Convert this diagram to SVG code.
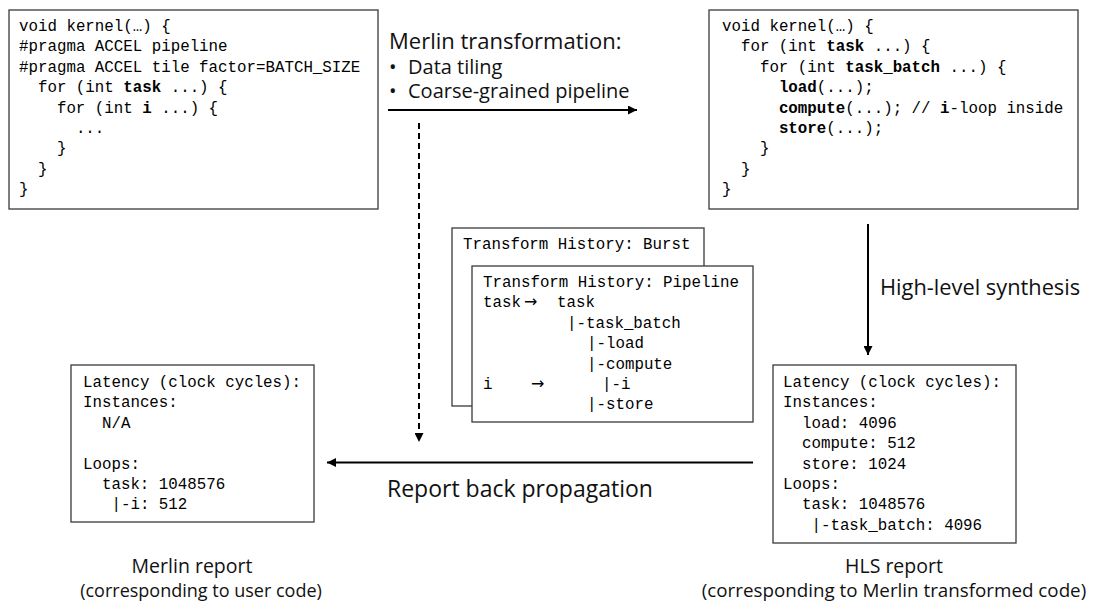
<svg xmlns="http://www.w3.org/2000/svg" width="1096" height="603" viewBox="0 0 1096 603">
<defs>
<marker id="ah" viewBox="0 0 10 10" refX="10" refY="5" markerWidth="4.5" markerHeight="4.5" orient="auto" markerUnits="strokeWidth">
<path d="M0,0 L10,5 L0,10 z" fill="#000"/>
</marker>
<style>
.box{fill:#fff;stroke:#3a3a3a;stroke-width:1.3}
.code{font-family:"Liberation Mono","DejaVu Sans Mono",monospace;font-size:15.8px;fill:#000}
.arr{font-family:"DejaVu Sans",sans-serif;font-size:16px;fill:#000}
.b{font-weight:bold}
.lbl{font-family:"Open Sans","Liberation Sans",sans-serif;font-size:20px;fill:#111}
.cap{font-family:"Open Sans","Liberation Sans",sans-serif;font-size:18px;fill:#111;text-anchor:middle}
.conn{stroke:#000;stroke-width:2;fill:none}
</style>
</defs>
<rect width="1096" height="603" fill="#fff"/>

<g id="user-code">
<rect class="box" x="9" y="10" width="369" height="199"/>
<g class="code">
<text x="19" y="31">void kernel(…) {</text>
<text x="19" y="51.4">#pragma ACCEL pipeline</text>
<text x="19" y="71.8">#pragma ACCEL tile factor=BATCH_SIZE</text>
<text x="37.96" y="92.2">for (int <tspan class="b">task</tspan> ...) {</text>
<text x="56.92" y="112.6">for (int <tspan class="b">i</tspan> ...) {</text>
<text x="75.88" y="133">...</text>
<text x="56.92" y="153.4">}</text>
<text x="37.96" y="173.8">}</text>
<text x="19" y="194.2">}</text>
</g>
</g>

<g id="transformed-code">
<rect class="box" x="709" y="10" width="369" height="199"/>
<g class="code">
<text x="722" y="31">void kernel(…) {</text>
<text x="740.96" y="51.4">for (int <tspan class="b">task</tspan> ...) {</text>
<text x="759.92" y="71.8">for (int <tspan class="b">task_batch</tspan> ...) {</text>
<text x="778.88" y="92.2"><tspan class="b">load</tspan>(...);</text>
<text x="778.88" y="112.6"><tspan class="b">compute</tspan>(...); // <tspan class="b">i</tspan>-loop inside</text>
<text x="778.88" y="133"><tspan class="b">store</tspan>(...);</text>
<text x="759.92" y="153.4">}</text>
<text x="740.96" y="173.8">}</text>
<text x="722" y="194.2">}</text>
</g>
</g>

<g id="history-burst">
<rect class="box" x="452" y="228" width="252" height="178"/>
<text class="code" x="463" y="249">Transform History: Burst</text>
</g>

<g id="history-pipeline">
<rect class="box" x="472" y="266" width="281" height="156"/>
<g class="code">
<text x="483" y="287">Transform History: Pipeline</text>
<text x="483" y="307.4">task</text>
<text class="arr" x="524" y="307.4">→</text>
<text x="557" y="307.4">task</text>
<text x="567" y="327.8">|-task_batch</text>
<text x="587" y="348.2">|-load</text>
<text x="587" y="368.6">|-compute</text>
<text x="483" y="389">i</text>
<text class="arr" x="531" y="389">→</text>
<text x="602" y="389">|-i</text>
<text x="587" y="409.4">|-store</text>
</g>
</g>

<g id="merlin-report">
<rect class="box" x="71" y="365" width="243" height="157"/>
<g class="code">
<text x="83" y="387">Latency (clock cycles):</text>
<text x="83" y="407.4">Instances:</text>
<text x="101.96" y="427.8">N/A</text>
<text x="83" y="468.6">Loops:</text>
<text x="101.96" y="489">task: 1048576</text>
<text x="111.44" y="509.4">|-i: 512</text>
</g>
<text class="cap"><tspan x="192" y="573" style="font-size:19.5px">Merlin report</tspan><tspan x="201" y="597">(corresponding to user code)</tspan></text>
</g>

<g id="hls-report">
<rect class="box" x="773" y="365" width="243" height="178"/>
<g class="code">
<text x="783" y="387">Latency (clock cycles):</text>
<text x="783" y="407.4">Instances:</text>
<text x="801.96" y="427.8">load: 4096</text>
<text x="801.96" y="448.2">compute: 512</text>
<text x="801.96" y="468.6">store: 1024</text>
<text x="783" y="489">Loops:</text>
<text x="801.96" y="509.4">task: 1048576</text>
<text x="811.44" y="529.8">|-task_batch: 4096</text>
</g>
<text class="cap"><tspan x="894" y="573" style="font-size:19.5px">HLS report</tspan><tspan x="894" y="597" style="font-size:18.8px">(corresponding to Merlin transformed code)</tspan></text>
</g>

<g id="connectors">
<line class="conn" x1="388" y1="110" x2="637" y2="110" marker-end="url(#ah)"/>
<line class="conn" x1="419" y1="123" x2="419" y2="442" stroke-dasharray="6,4" marker-end="url(#ah)"/>
<line class="conn" x1="868" y1="224" x2="868" y2="355" stroke-width="1.6" marker-end="url(#ah)"/>
<line class="conn" x1="753" y1="462.5" x2="327" y2="462.5" marker-end="url(#ah)"/>
<text class="lbl"><tspan x="389" y="49" style="font-size:22px">Merlin transformation:</tspan><tspan x="389" y="74">•</tspan><tspan x="408" y="74">Data tiling</tspan><tspan x="389" y="98">•</tspan><tspan x="408" y="98">Coarse-grained pipeline</tspan></text>
<text class="lbl" x="880" y="295" style="font-size:21.8px">High-level synthesis</text>
<text class="lbl" x="387" y="497" style="font-size:23px">Report back propagation</text>
</g>
</svg>
